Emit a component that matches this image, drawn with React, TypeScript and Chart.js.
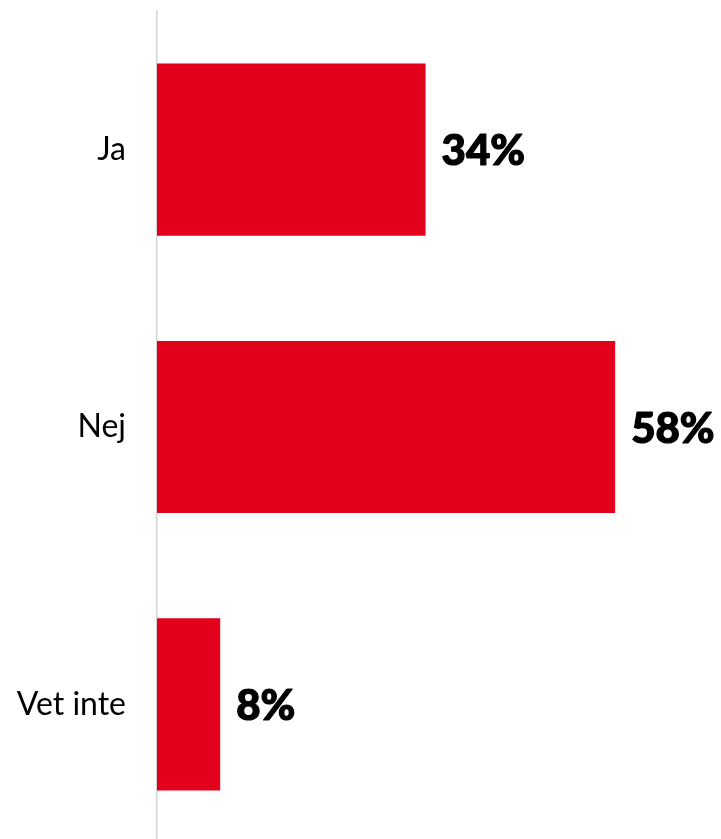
import React, { useEffect, useRef } from "react";
import { Chart, registerables } from "chart.js";

Chart.register(...registerables);

const categories = ["Ja", "Nej", "Vet inte"];
const values = [34, 58, 8];
const valueLabels = ["34%", "58%", "8%"];

const barColor = "#E2001A";

const valueLabelPlugin = {
  id: "valueLabels",
  afterDatasetsDraw(chart: any) {
    const ctx = chart.ctx;
    const meta = chart.getDatasetMeta(0);
    ctx.save();
    ctx.font = "900 42px 'Lato Black', 'Lato Heavy', Lato";
    ctx.fillStyle = "#000000";
    ctx.strokeStyle = "#000000";
    ctx.lineWidth = 1.2;
    ctx.lineJoin = "round";
    ctx.textAlign = "left";
    ctx.textBaseline = "middle";
    meta.data.forEach((bar: any, i: number) => {
      ctx.fillText(valueLabels[i], bar.x + 16, bar.y + 2);
      ctx.strokeText(valueLabels[i], bar.x + 16, bar.y + 2);
    });
    ctx.restore();
  },
};

export default function App() {
  const ref = useRef<HTMLCanvasElement | null>(null);
  useEffect(() => {
    if (!ref.current) return;
    const chart = new Chart(ref.current, {
      type: "bar",
      data: {
        labels: categories,
        datasets: [
          {
            data: values,
            backgroundColor: barColor,
            borderWidth: 0,
            barPercentage: 0.621,
            categoryPercentage: 1,
          },
        ],
      },
      options: {
        indexAxis: "y",
        animation: false,
        responsive: true,
        maintainAspectRatio: false,
        layout: { padding: { top: 11, right: 0, bottom: 0, left: 0 } },
        plugins: {
          legend: { display: false },
          tooltip: { enabled: false },
        },
        scales: {
          x: {
            display: false,
            min: 0,
            max: 71.4,
          },
          y: {
            afterFit: (s: any) => {
              s.width = 157;
              s.paddingTop = 0;
              s.paddingBottom = 0;
            },
            grid: { display: false, drawTicks: false },
            border: { display: true, color: "#d4d4d4", width: 1.5 },
            ticks: {
              padding: 31,
              color: "#000000",
              font: { family: "Lato", size: 32, weight: "normal" },
            },
          },
        },
      },
      plugins: [valueLabelPlugin],
    });
    return () => chart.destroy();
  }, []);
  return (
    <div
      style={{
        position: "fixed",
        left: 0,
        top: 0,
        width: 721,
        height: 843,
        background: "#ffffff",
      }}
    >
      <canvas ref={ref} />
    </div>
  );
}
